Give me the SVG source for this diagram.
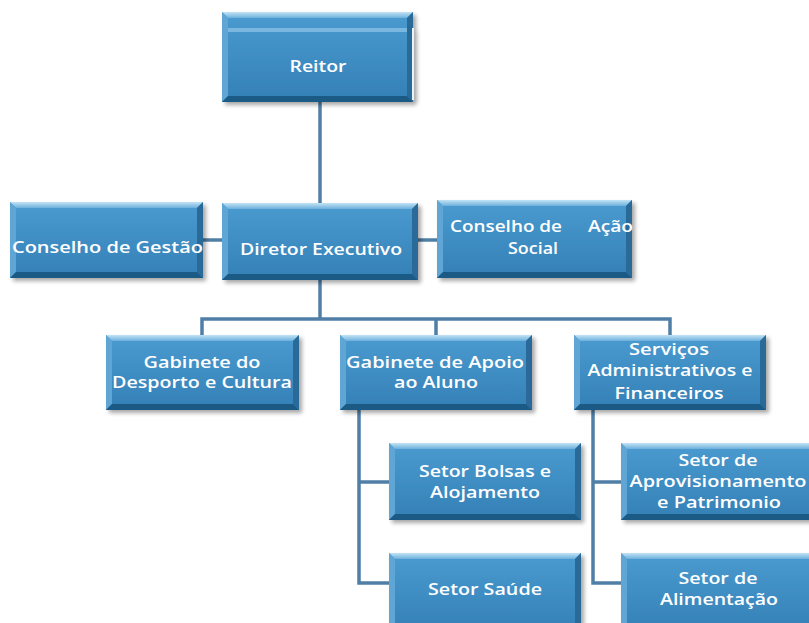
<svg xmlns="http://www.w3.org/2000/svg" width="809" height="623" viewBox="0 0 809 623">
<defs>
<linearGradient id="face" x1="0" y1="0" x2="0" y2="1">
<stop offset="0" stop-color="#4a9bd0"/>
<stop offset="1" stop-color="#3480b6"/>
</linearGradient>
<linearGradient id="topg" x1="0" y1="0" x2="0" y2="1">
<stop offset="0" stop-color="#c3e3f5"/>
<stop offset="1" stop-color="#6cb0dc"/>
</linearGradient>
<filter id="sh" x="-5%" y="-5%" width="112%" height="120%">
<feGaussianBlur in="SourceAlpha" stdDeviation="2"/>
<feOffset dx="3" dy="3" result="b"/>
<feComponentTransfer><feFuncA type="linear" slope="0.35"/></feComponentTransfer>
<feMerge><feMergeNode/><feMergeNode in="SourceGraphic"/></feMerge>
</filter>
</defs>
<style>
.bx{filter:url(#sh)}
.f{fill:url(#face)}
.t{fill:url(#topg)}
.l{fill:#5fa6d5}
.r{fill:#2a6b99}
.b{fill:#1f5a86}
.tx{fill:#ffffff;font-family:"Open Sans","Noto Sans","Liberation Sans",sans-serif;font-weight:600;font-size:16px;text-anchor:middle}
.cn{stroke:#4f7fa6;stroke-width:3.5;fill:none}
</style>

<g id="connectors">
<path class="cn" d="M320 102V203"/>
<path class="cn" d="M203 240H222"/>
<path class="cn" d="M418 240H437"/>
<path class="cn" d="M320 280V319"/>
<path class="cn" d="M202 335V319H670V335"/>
<path class="cn" d="M436 319V335"/>
<path class="cn" d="M359 410V583H389M359 482H389"/>
<path class="cn" d="M593 410V583H621M593 482H621"/>
</g>

<g id="reitor">
<g class="bx">
<rect class="f" x="222" y="12" width="191" height="90"/>
<polygon class="t" points="222,12 413,12 407,18 228,18"/>
<polygon class="l" points="222,12 228,18 228,96 222,102"/>
<polygon class="r" points="413,12 413,102 407,96 407,18"/>
<polygon class="b" points="222,102 228,96 407,96 413,102"/>
<rect x="228" y="28" width="179" height="4" fill="#9ccfee" opacity="0.6"/>
<rect x="412" y="28" width="2" height="72" fill="#e8f4fb"/>
</g>
<text class="tx" x="318" y="72" font-size="18" textLength="57" lengthAdjust="spacingAndGlyphs">Reitor</text>
</g>

<g id="conselho-gestao">
<g class="bx">
<rect class="f" x="10" y="202" width="193" height="76"/>
<polygon class="t" points="10,202 203,202 197,208 16,208"/>
<polygon class="l" points="10,202 16,208 16,272 10,278"/>
<polygon class="r" points="203,202 203,278 197,272 197,208"/>
<polygon class="b" points="10,278 16,272 197,272 203,278"/>
</g>
<text class="tx" x="12" y="253" font-size="18" style="text-anchor:start" textLength="191" lengthAdjust="spacingAndGlyphs">Conselho de Gestão</text>
</g>

<g id="diretor-executivo">
<g class="bx">
<rect class="f" x="222" y="203" width="196" height="77"/>
<polygon class="t" points="222,203 418,203 412,209 228,209"/>
<polygon class="l" points="222,203 228,209 228,274 222,280"/>
<polygon class="r" points="418,203 418,280 412,274 412,209"/>
<polygon class="b" points="222,280 228,274 412,274 418,280"/>
</g>
<text class="tx" x="321" y="255" font-size="18" textLength="162" lengthAdjust="spacingAndGlyphs">Diretor Executivo</text>
</g>

<g id="conselho-acao-social">
<g class="bx">
<rect class="f" x="437" y="200" width="195" height="78"/>
<polygon class="t" points="437,200 632,200 626,206 443,206"/>
<polygon class="l" points="437,200 443,206 443,272 437,278"/>
<polygon class="r" points="632,200 632,278 626,272 626,206"/>
<polygon class="b" points="437,278 443,272 626,272 632,278"/>
</g>
<text class="tx" font-size="17" style="text-anchor:start"><tspan x="450" y="232" textLength="112" lengthAdjust="spacingAndGlyphs">Conselho de</tspan><tspan x="588" y="232" textLength="45" lengthAdjust="spacingAndGlyphs">Ação</tspan></text>
<text class="tx" x="533" y="254" font-size="17" textLength="50" lengthAdjust="spacingAndGlyphs">Social</text>
</g>

<g id="gabinete-desporto">
<g class="bx">
<rect class="f" x="106" y="335" width="193" height="75"/>
<polygon class="t" points="106,335 299,335 293,341 112,341"/>
<polygon class="l" points="106,335 112,341 112,404 106,410"/>
<polygon class="r" points="299,335 299,410 293,404 293,341"/>
<polygon class="b" points="106,410 112,404 293,404 299,410"/>
</g>
<text class="tx" x="202" y="368" textLength="117" lengthAdjust="spacingAndGlyphs">Gabinete do</text>
<text class="tx" x="202" y="388" textLength="180" lengthAdjust="spacingAndGlyphs">Desporto e Cultura</text>
</g>

<g id="gabinete-apoio">
<g class="bx">
<rect class="f" x="340" y="335" width="192" height="75"/>
<polygon class="t" points="340,335 532,335 526,341 346,341"/>
<polygon class="l" points="340,335 346,341 346,404 340,410"/>
<polygon class="r" points="532,335 532,410 526,404 526,341"/>
<polygon class="b" points="340,410 346,404 526,404 532,410"/>
</g>
<text class="tx" x="435" y="368" textLength="178" lengthAdjust="spacingAndGlyphs">Gabinete de Apoio</text>
<text class="tx" x="436" y="388" textLength="84" lengthAdjust="spacingAndGlyphs">ao Aluno</text>
</g>

<g id="servicos-administrativos">
<g class="bx">
<rect class="f" x="574" y="335" width="192" height="75"/>
<polygon class="t" points="574,335 766,335 760,341 580,341"/>
<polygon class="l" points="574,335 580,341 580,404 574,410"/>
<polygon class="r" points="766,335 766,410 760,404 760,341"/>
<polygon class="b" points="574,410 580,404 760,404 766,410"/>
</g>
<text class="tx" x="669" y="355" font-size="16" textLength="80" lengthAdjust="spacingAndGlyphs">Serviços</text>
<text class="tx" x="670" y="376" font-size="13" textLength="165" lengthAdjust="spacingAndGlyphs">Administrativos e</text>
<text class="tx" x="669" y="399" font-size="18" textLength="109" lengthAdjust="spacingAndGlyphs">Financeiros</text>
</g>

<g id="setor-bolsas">
<g class="bx">
<rect class="f" x="389" y="443" width="192" height="77"/>
<polygon class="t" points="389,443 581,443 575,449 395,449"/>
<polygon class="l" points="389,443 395,449 395,514 389,520"/>
<polygon class="r" points="581,443 581,520 575,514 575,449"/>
<polygon class="b" points="389,520 395,514 575,514 581,520"/>
</g>
<text class="tx" x="485" y="477" font-size="17" textLength="132" lengthAdjust="spacingAndGlyphs">Setor Bolsas e</text>
<text class="tx" x="485" y="498" font-size="17" textLength="110" lengthAdjust="spacingAndGlyphs">Alojamento</text>
</g>

<g id="setor-saude">
<g class="bx">
<rect class="f" x="389" y="553" width="192" height="80"/>
<polygon class="t" points="389,553 581,553 575,559 395,559"/>
<polygon class="l" points="389,553 395,559 395,627 389,633"/>
<polygon class="r" points="581,553 581,633 575,627 575,559"/>
</g>
<text class="tx" x="485" y="595" font-size="17" textLength="114" lengthAdjust="spacingAndGlyphs">Setor Saúde</text>
</g>

<g id="setor-aprovisionamento">
<g class="bx">
<rect class="f" x="621" y="443" width="196" height="77"/>
<polygon class="t" points="621,443 817,443 811,449 627,449"/>
<polygon class="l" points="621,443 627,449 627,514 621,520"/>
<polygon class="r" points="817,443 817,520 811,514 811,449"/>
<polygon class="b" points="621,520 627,514 811,514 817,520"/>
</g>
<text class="tx" x="718" y="466" font-size="17" textLength="79" lengthAdjust="spacingAndGlyphs">Setor de</text>
<text class="tx" x="718" y="487" font-size="17" textLength="177" lengthAdjust="spacingAndGlyphs">Aprovisionamento</text>
<text class="tx" x="719" y="508" font-size="17" textLength="124" lengthAdjust="spacingAndGlyphs">e Patrimonio</text>
</g>

<g id="setor-alimentacao">
<g class="bx">
<rect class="f" x="621" y="553" width="196" height="80"/>
<polygon class="t" points="621,553 817,553 811,559 627,559"/>
<polygon class="l" points="621,553 627,559 627,627 621,633"/>
</g>
<text class="tx" x="718" y="584" font-size="17" textLength="79" lengthAdjust="spacingAndGlyphs">Setor de</text>
<text class="tx" x="719" y="605" font-size="17" textLength="118" lengthAdjust="spacingAndGlyphs">Alimentação</text>
</g>
</svg>
